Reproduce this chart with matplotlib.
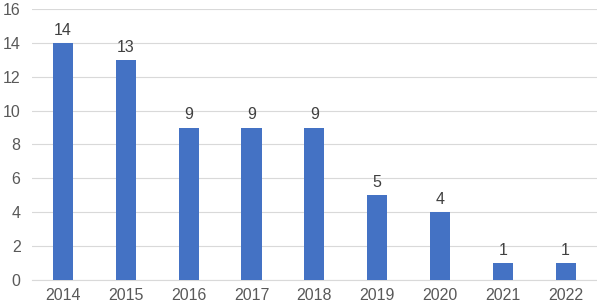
import matplotlib.pyplot as plt

years = ['2014', '2015', '2016', '2017', '2018', '2019', '2020', '2021', '2022']
counts = [14, 13, 9, 9, 9, 5, 4, 1, 1]

plt.rcParams['font.family'] = ['Liberation Sans', 'DejaVu Sans']
text_color = '#595959'

fig = plt.figure(figsize=(5.97, 3.08), dpi=100)
ax = fig.add_axes([0.053, 0.091, 0.947, 0.88])

x = range(len(years))
bars = ax.bar(x, counts, width=0.32, color='#4472C4', zorder=3)
for bar, c in zip(bars, counts):
    ax.text(bar.get_x() + bar.get_width() / 2, c + 0.3, str(c),
            ha='center', va='bottom', fontsize=11.5, color='#404040')

ax.set_xlim(-0.5, len(years) - 0.5)
ax.set_ylim(0, 16)
ax.set_yticks(range(0, 17, 2))
ax.set_xticks(list(x))
ax.set_xticklabels(years)
ax.grid(axis='y', color='#d9d9d9', linewidth=0.8, zorder=0)
for s in ['top', 'right', 'left']:
    ax.spines[s].set_visible(False)
ax.spines['bottom'].set_color('#d9d9d9')
ax.tick_params(length=0, labelsize=11.5, colors=text_color)
ax.tick_params(axis='y', pad=8)
ax.tick_params(axis='x', pad=6)

fig.savefig('out.png', dpi=100)
